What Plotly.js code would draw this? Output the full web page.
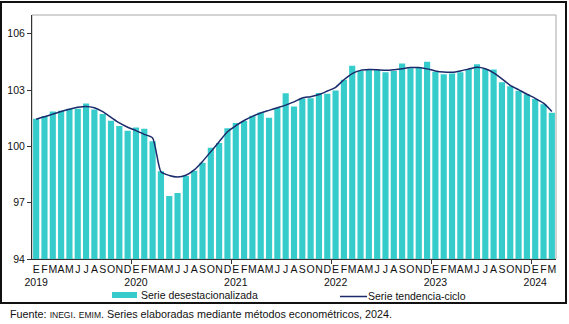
<!DOCTYPE html>
<html>
<head>
<meta charset="utf-8">
<script src="https://cdn.plot.ly/plotly-3.0.1.min.js"></script>
<style>
  html, body { margin: 0; padding: 0; background: #fff; }
  #wrap { position: relative; width: 569px; height: 324px; overflow: hidden; }
  #chart { position: absolute; left: 0; top: 0; width: 569px; height: 324px; }
  #frame { position: absolute; left: 0px; top: 1px; width: 567px; height: 303px; box-sizing: border-box; border: 2px solid #111; pointer-events: none; }
</style>
</head>
<body>
<div id="wrap">
  <div id="chart"></div>
  <div id="frame"></div>
</div>
<script>
// Month initials (Spanish) and years
const monthLetters = ['E','F','M','A','M','J','J','A','S','O','N','D'];
const years = ['2019','2020','2021','2022','2023','2024'];

// Serie desestacionalizada (Jan 2019 - Mar 2024)
const desestacionalizada = [
  101.47, 101.61, 101.86, 101.90, 102.00, 102.00, 102.28, 101.96, 101.72, 101.36, 101.08, 100.83,
  101.00, 100.94, 100.27, 98.68, 97.35, 97.52, 98.42, 98.70, 99.13, 99.93, 100.18, 100.96,
  101.24, 101.35, 101.63, 101.80, 101.52, 102.05, 102.83, 102.12, 102.55, 102.57, 102.85, 102.81,
  102.98, 103.55, 104.30, 104.01, 104.12, 104.07, 103.95, 104.02, 104.41, 104.16, 104.20, 104.51,
  103.98, 103.84, 103.88, 103.95, 104.12, 104.37, 104.12, 104.09, 103.42, 103.20, 102.96, 102.78,
  102.53, 102.25, 101.79
];

// Serie tendencia-ciclo
const tendencia = [
  101.45, 101.58, 101.72, 101.86, 101.98, 102.08, 102.13, 102.06, 101.85, 101.55, 101.25, 101.02,
  100.84, 100.64, 100.45, 98.65, 98.45, 98.37, 98.46, 98.75, 99.20, 99.72, 100.25, 100.78,
  101.10, 101.38, 101.60, 101.78, 101.92, 102.06, 102.20, 102.37, 102.58, 102.65, 102.76, 102.95,
  103.15, 103.55, 103.88, 104.05, 104.09, 104.08, 104.05, 104.08, 104.14, 104.20, 104.20, 104.13,
  104.02, 103.96, 103.95, 104.02, 104.12, 104.22, 104.14, 103.92, 103.60, 103.25, 103.02, 102.78,
  102.56, 102.30, 101.86
];

const yTicks = [94, 97, 100, 103, 106];

// build period labels
const xIdx = [];
const tickText = [];
for (let i = 0; i < desestacionalizada.length; i++) {
  xIdx.push(i);
  const m = i % 12;
  const y = Math.floor(i / 12);
  tickText.push(m === 0 ? monthLetters[m] + '<br>' + years[y] : monthLetters[m]);
}
const yearBounds = [];
for (let y = 1; y < years.length; y++) yearBounds.push(y * 12 - 0.5);

const FONT = 'Liberation Sans, Arial, sans-serif';
const barColor = '#36CCCC';
const lineColor = '#1B2A6B';

// convert pixel positions to paper coords
const L = 32, R = 13, T = 15, B = 65, W = 569, H = 324;
const pw = W - L - R, ph = H - T - B;
const px = v => (v - L) / pw;
const py = v => (H - B - v) / ph;

const traces = [
  {
    type: 'bar', x: xIdx, y: desestacionalizada, name: 'Serie desestacionalizada',
    marker: { color: barColor, line: { width: 0 } },
    showlegend: false, hoverinfo: 'skip'
  },
  {
    type: 'scatter', mode: 'lines', x: xIdx, y: tendencia, name: 'Serie tendencia-ciclo',
    line: { color: lineColor, width: 1.5, shape: 'spline', smoothing: 0.6 },
    showlegend: false, hoverinfo: 'skip'
  }
];

const layout = {
  width: W, height: H,
  margin: { l: L, r: R, t: T, b: B, pad: 0 },
  paper_bgcolor: 'rgba(0,0,0,0)', plot_bgcolor: '#fff',
  font: { family: FONT, size: 10, color: '#111' },
  bargap: 0.26,
  showlegend: false,
  xaxis: {
    range: [-0.5, desestacionalizada.length - 0.5],
    tickmode: 'array', tickvals: xIdx, ticktext: tickText,
    ticks: '', showgrid: false, zeroline: false,
    showline: true, linecolor: '#333', linewidth: 1,
    tickfont: { family: FONT, size: 10.5, color: '#111' },
    tickangle: 0,
    minor: { tickmode: 'array', tickvals: yearBounds, ticks: 'outside', ticklen: 4, tickcolor: '#333', tickwidth: 1, showgrid: false }
  },
  yaxis: {
    range: [94, 107],
    tickmode: 'array', tickvals: yTicks,
    ticks: 'outside', ticklen: 4, tickcolor: '#333',
    showgrid: false, zeroline: false,
    showline: true, linecolor: '#333', linewidth: 1,
    tickfont: { family: FONT, size: 10.5, color: '#111' }
  },
  shapes: [
    { type: 'rect', xref: 'paper', yref: 'paper', x0: 0, x1: 1, y0: 0, y1: 1,
      line: { color: '#a8a8a8', width: 1 }, layer: 'below' },
    // legend swatch (bars)
    { type: 'rect', xref: 'paper', yref: 'paper', x0: px(112), x1: px(137), y0: py(298), y1: py(292),
      fillcolor: barColor, line: { width: 0 } },
    // legend line
    { type: 'line', xref: 'paper', yref: 'paper', x0: px(340), x1: px(367), y0: py(296.5), y1: py(296.5),
      line: { color: lineColor, width: 1.5 } }
  ],
  annotations: [
    { xref: 'paper', yref: 'paper', x: px(139), y: py(295), xanchor: 'left', yanchor: 'middle',
      text: traces[0].name, showarrow: false, font: { family: FONT, size: 10.5, color: '#111' } },
    { xref: 'paper', yref: 'paper', x: px(366), y: py(295.5), xanchor: 'left', yanchor: 'middle',
      text: traces[1].name, showarrow: false, font: { family: FONT, size: 10.5, color: '#111' } },
    { xref: 'paper', yref: 'paper', x: px(8), y: py(314), xanchor: 'left', yanchor: 'middle',
      text: 'Fuente: <span style="font-size:8.5px">INEGI</span>. <span style="font-size:8.5px">EMIM</span>. Series elaboradas mediante métodos econométricos, 2024.',
      showarrow: false, font: { family: FONT, size: 10.8, color: '#111' } }
  ]
};

Plotly.newPlot('chart', traces, layout, { staticPlot: true, displayModeBar: false });
</script>
</body>
</html>
